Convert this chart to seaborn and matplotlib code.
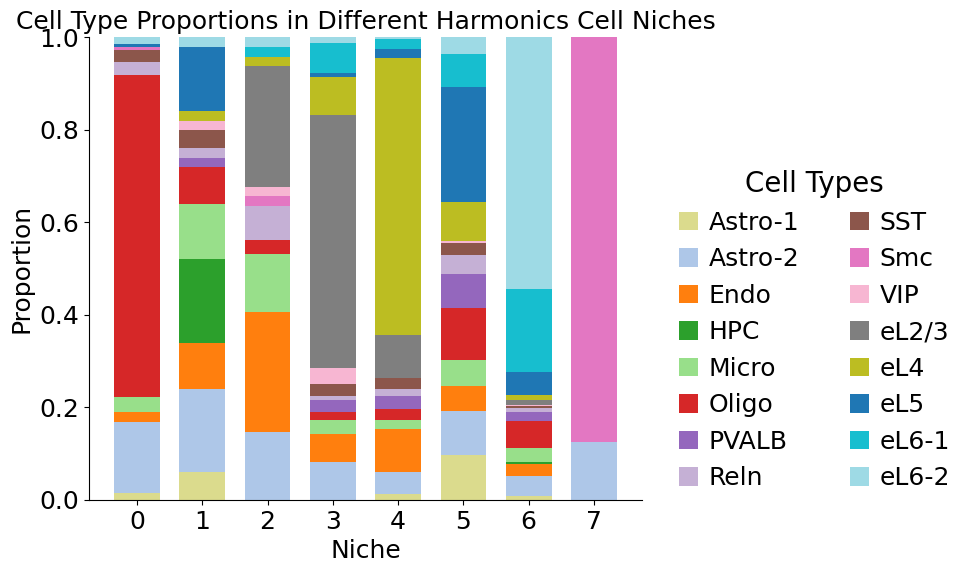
import numpy as np
import pandas as pd
import matplotlib
matplotlib.use("Agg")
import matplotlib.pyplot as plt
import seaborn as sns
from matplotlib.patches import Patch

cell_types = ['Astro-1', 'Astro-2', 'Endo', 'HPC', 'Micro', 'Oligo', 'PVALB', 'Reln',
              'SST', 'Smc', 'VIP', 'eL2/3', 'eL4', 'eL5', 'eL6-1', 'eL6-2']
colors = ['#dbdb8d', '#aec7e8', '#ff7f0e', '#2ca02c', '#98df8a', '#d62728', '#9467bd', '#c5b0d5',
          '#8c564b', '#e377c2', '#f7b6d2', '#7f7f7f', '#bcbd22', '#1f77b4', '#17becf', '#9edae5']
niches = [0, 1, 2, 3, 4, 5, 6, 7]

# proportions per niche, same order as cell_types
niche_0 = [0.015, 0.153, 0.022, 0.0, 0.032, 0.696, 0.0, 0.028, 0.026, 0.006, 0.0, 0.0, 0.0, 0.007, 0.0, 0.015]
niche_1 = [0.060, 0.180, 0.099, 0.182, 0.118, 0.080, 0.020, 0.021, 0.039, 0.0, 0.020, 0.0, 0.021, 0.138, 0.0, 0.022]
niche_2 = [0.0, 0.147, 0.259, 0.0, 0.125, 0.031, 0.0, 0.073, 0.0, 0.022, 0.019, 0.261, 0.020, 0.0, 0.021, 0.022]
niche_3 = [0.0, 0.082, 0.061, 0.0, 0.030, 0.017, 0.026, 0.009, 0.026, 0.0, 0.034, 0.547, 0.082, 0.008, 0.065, 0.013]
niche_4 = [0.013, 0.047, 0.093, 0.0, 0.020, 0.024, 0.028, 0.015, 0.023, 0.0, 0.0, 0.093, 0.599, 0.020, 0.021, 0.004]
niche_5 = [0.097, 0.095, 0.054, 0.0, 0.056, 0.113, 0.073, 0.041, 0.026, 0.0, 0.004, 0.0, 0.085, 0.248, 0.071, 0.037]
niche_6 = [0.009, 0.043, 0.026, 0.004, 0.030, 0.059, 0.019, 0.009, 0.003, 0.0, 0.004, 0.009, 0.011, 0.051, 0.178, 0.545]
niche_7 = [0.0, 0.125, 0.0, 0.0, 0.0, 0.0, 0.0, 0.0, 0.0, 0.875, 0.0, 0.0, 0.0, 0.0, 0.0, 0.0]

rows = []
for n, vals in zip(niches, [niche_0, niche_1, niche_2, niche_3, niche_4, niche_5, niche_6, niche_7]):
    for ct, v in zip(cell_types, vals):
        rows.append({'Niche': n, 'Cell Type': ct, 'Proportion': v})
df = pd.DataFrame(rows)

palette = dict(zip(cell_types, colors))

fig = plt.figure(figsize=(9.65, 5.73), dpi=100)
ax = fig.add_axes([0.0922, 0.1274, 0.5731, 0.808])

# seaborn stacks the last hue level at the bottom, so reverse the order
sns.histplot(data=df, x='Niche', weights='Proportion', hue='Cell Type',
             hue_order=cell_types[::-1], palette=palette, multiple='stack',
             discrete=True, shrink=0.7, alpha=1, linewidth=0, legend=False, ax=ax)

ax.set_xlim(-0.735, 7.735)
ax.set_ylim(0, 1)
ax.set_xticks(niches)
ax.set_yticks([0.0, 0.2, 0.4, 0.6, 0.8, 1.0])
ax.tick_params(labelsize=18)
ax.set_xlabel('Niche', fontsize=18)
ax.set_ylabel('Proportion', fontsize=18)
ax.set_title('Cell Type Proportions in Different Harmonics Cell Niches', fontsize=18)
sns.despine(ax=ax)

handles = [Patch(facecolor=palette[ct], label=ct) for ct in cell_types]
ax.legend(handles=handles, title='Cell Types', ncol=2, loc='lower left',
          bbox_to_anchor=(1.026, -0.027), frameon=False, fontsize=18, title_fontsize=20,
          handlelength=0.76, handleheight=0.76, handletextpad=0.44, columnspacing=2.0)

fig.savefig('out.png', dpi=100)
